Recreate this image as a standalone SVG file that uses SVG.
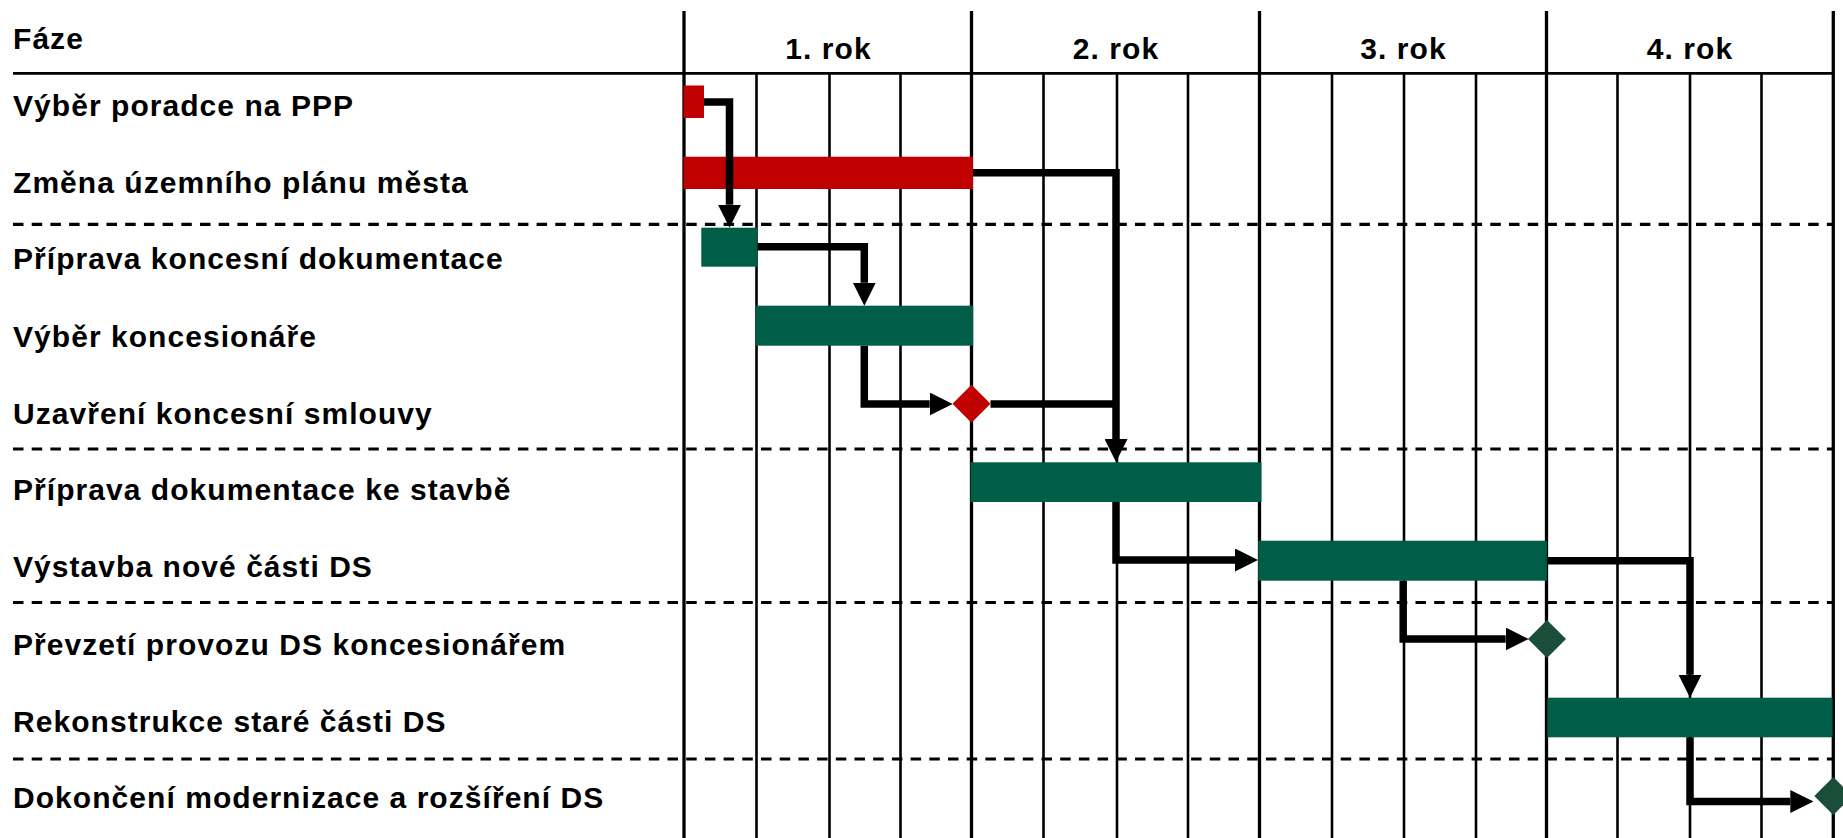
<svg xmlns="http://www.w3.org/2000/svg" width="1843" height="838" viewBox="0 0 1843 838">
<style>
  text { font-family: "Liberation Sans", Arial, sans-serif; font-weight: bold; font-size: 30px; letter-spacing: 1.05px; fill: #000; }
  .yr { text-anchor: middle; }
  .year { stroke: #000; stroke-width: 3.3; fill: none; }
  .qtr { stroke: #000; stroke-width: 2.6; fill: none; }
  .hdr { stroke: #000; stroke-width: 2.8; fill: none; }
  .dash { stroke: #000; stroke-width: 3.2; stroke-dasharray: 10.5 8.2; fill: none; }
  .red { fill: #C00000; }
  .green { fill: #005E48; }
  .ms { fill: #1A4D3A; }
  .conn { stroke: #000; stroke-width: 7.5; fill: none; stroke-linejoin: miter; stroke-linecap: butt; }
  .arr { marker-end: url(#ah); }
</style>
<defs>
  <marker id="ah" viewBox="0 0 23 23" refX="0" refY="11.5" markerWidth="23" markerHeight="23" markerUnits="userSpaceOnUse" orient="auto">
    <path d="M0,0 L23,11.5 L0,23 z" fill="#000"/>
  </marker>
</defs>
<rect width="1843" height="838" fill="#fff"/>

<g id="grid">
  <line class="qtr" x1="756.5" y1="73" x2="756.5" y2="838"/>
  <line class="qtr" x1="829.5" y1="73" x2="829.5" y2="838"/>
  <line class="qtr" x1="900.5" y1="73" x2="900.5" y2="838"/>
  <line class="qtr" x1="1043.5" y1="73" x2="1043.5" y2="838"/>
  <line class="qtr" x1="1117" y1="73" x2="1117" y2="838"/>
  <line class="qtr" x1="1188" y1="73" x2="1188" y2="838"/>
  <line class="qtr" x1="1332" y1="73" x2="1332" y2="838"/>
  <line class="qtr" x1="1404" y1="73" x2="1404" y2="838"/>
  <line class="qtr" x1="1476" y1="73" x2="1476" y2="838"/>
  <line class="qtr" x1="1617.5" y1="73" x2="1617.5" y2="838"/>
  <line class="qtr" x1="1690" y1="73" x2="1690" y2="838"/>
  <line class="qtr" x1="1761.5" y1="73" x2="1761.5" y2="838"/>
  <line class="year" x1="684" y1="11" x2="684" y2="838"/>
  <line class="year" x1="971.5" y1="11" x2="971.5" y2="838"/>
  <line class="year" x1="1259.5" y1="11" x2="1259.5" y2="838"/>
  <line class="year" x1="1546.5" y1="11" x2="1546.5" y2="838"/>
  <line class="year" x1="1833.3" y1="11" x2="1833.3" y2="838"/>
  <line class="hdr" x1="13" y1="73.3" x2="1833.3" y2="73.3"/>
  <line class="dash" x1="13" y1="224.3" x2="1833" y2="224.3"/>
  <line class="dash" x1="13" y1="449" x2="1833" y2="449"/>
  <line class="dash" x1="13" y1="602.5" x2="1833" y2="602.5"/>
  <line class="dash" x1="13" y1="759" x2="1833" y2="759"/>
</g>

<g id="header">
  <text x="13" y="49">Fáze</text>
  <text class="yr" x="828.5" y="59">1. rok</text>
  <text class="yr" x="1116" y="59">2. rok</text>
  <text class="yr" x="1403.5" y="59">3. rok</text>
  <text class="yr" x="1690" y="59">4. rok</text>
</g>

<g id="task1"><text x="13" y="115.5">Výběr poradce na PPP</text><rect class="red" x="683.5" y="85.5" width="20.5" height="32.5"/></g>
<g id="task2"><text x="13" y="192.5">Změna územního plánu města</text><rect class="red" x="683.5" y="156.7" width="289.5" height="32.3"/></g>
<g id="task3"><text x="13" y="269">Příprava koncesní dokumentace</text><rect class="green" x="701.3" y="227.7" width="56.3" height="39"/></g>
<g id="task4"><text x="13" y="346.5">Výběr koncesionáře</text><rect class="green" x="755.4" y="305.7" width="217.8" height="40"/></g>
<g id="task5"><text x="13" y="424">Uzavření koncesní smlouvy</text><path class="red" d="M971.5,384.7 L990.5,403.7 L971.5,422.7 L952.5,403.7 z"/></g>
<g id="task6"><text x="13" y="500">Příprava dokumentace ke stavbě</text><rect class="green" x="970.5" y="462.3" width="291" height="39.7"/></g>
<g id="task7"><text x="13" y="576.5">Výstavba nové části DS</text><rect class="green" x="1258.3" y="540.7" width="288.6" height="40"/></g>
<g id="task8"><text x="13" y="655">Převzetí provozu DS koncesionářem</text><path class="ms" d="M1547,620 L1566,639 L1547,658 L1528,639 z"/></g>
<g id="task9"><text x="13" y="731.5">Rekonstrukce staré části DS</text><rect class="green" x="1547.3" y="697.7" width="285.3" height="39.6"/></g>
<g id="task10"><text x="13" y="808">Dokončení modernizace a rozšíření DS</text><path class="ms" d="M1833.3,777 L1852.3,796 L1833.3,815 L1814.3,796 z"/></g>

<g id="connectors">
  <path class="conn arr" d="M704,102 H729.5 V204.7"/>
  <path class="conn arr" d="M973,172.7 H1116 V439"/>
  <path class="conn arr" d="M757.6,246.7 H864.3 V282.7"/>
  <path class="conn arr" d="M864.3,345.7 V404 H929.7"/>
  <path class="conn" d="M990.5,404 H1116"/>
  <path class="conn arr" d="M1116,502 V560 H1235"/>
  <path class="conn arr" d="M1546.9,560.7 H1690 V674.7"/>
  <path class="conn arr" d="M1403.2,580.7 V639 H1505.7"/>
  <path class="conn arr" d="M1690,737.3 V801.5 H1790.3"/>
</g>
</svg>
